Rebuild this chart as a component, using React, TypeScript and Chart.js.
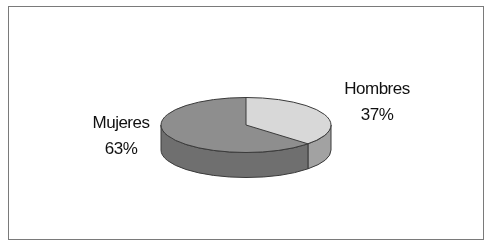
import React, { useEffect, useRef } from "react";
import { Chart, registerables } from "chart.js";

Chart.register(...registerables);

const categories = ["Hombres", "Mujeres"];
const values = [37, 63];
const percentLabels = ["37%", "63%"];

const topColors = ["#d8d8d8", "#8e8e8e"];
const sideColors = ["#a2a2a2", "#6f6f6f"];

const CX = 246;
const CY = 125;
const RX = 85;
const RY = 27.5;
const DEPTH = 25;
const OUTLINE = "#3a3a3a";

const labelPos: Record<string, [number, number]> = {
  Hombres: [377, 89],
  Mujeres: [121, 123],
};

const pie3d = {
  id: "pie3d",
  beforeDatasetsDraw(chart: any) {
    const ctx = chart.ctx as CanvasRenderingContext2D;
    const meta = chart.getDatasetMeta(0);
    const arcs = meta.data;
    if (!arcs.length) return;
    const p = arcs[0].getProps(["x", "y", "outerRadius"], true);
    // side walls (front half only)
    ctx.save();
    ctx.lineWidth = 1;
    ctx.strokeStyle = OUTLINE;
    arcs.forEach((arc: any, i: number) => {
      const a = arc.getProps(["startAngle", "endAngle"], true);
      const s = Math.max(a.startAngle, 0);
      const e = Math.min(a.endAngle, Math.PI);
      if (s >= e) return;
      ctx.beginPath();
      ctx.ellipse(CX, CY, RX, RY, 0, s, e, false);
      ctx.lineTo(CX + RX * Math.cos(e), CY + DEPTH + RY * Math.sin(e));
      ctx.ellipse(CX, CY + DEPTH, RX, RY, 0, e, s, true);
      ctx.closePath();
      ctx.fillStyle = sideColors[i];
      ctx.fill();
      ctx.stroke();
    });
    ctx.restore();
    ctx.save();
    ctx.translate(CX, CY);
    ctx.scale(RX / p.outerRadius, RY / p.outerRadius);
    ctx.translate(-p.x, -p.y);
  },
  afterDatasetsDraw(chart: any) {
    const ctx = chart.ctx as CanvasRenderingContext2D;
    ctx.restore();
    const meta = chart.getDatasetMeta(0);
    const arcs = meta.data;
    ctx.save();
    ctx.lineWidth = 1;
    ctx.strokeStyle = OUTLINE;
    ctx.beginPath();
    ctx.ellipse(CX, CY, RX, RY, 0, 0, Math.PI * 2);
    ctx.stroke();
    arcs.forEach((arc: any) => {
      const a = arc.getProps(["startAngle"], true);
      ctx.beginPath();
      ctx.moveTo(CX, CY);
      ctx.lineTo(CX + RX * Math.cos(a.startAngle), CY + RY * Math.sin(a.startAngle));
      ctx.stroke();
    });
    // labels
    ctx.fillStyle = "#111";
    ctx.font = "17px 'Liberation Sans', Arial, sans-serif";
    ctx.textAlign = "center";
    ctx.textBaseline = "middle";
    (ctx as any).letterSpacing = "-0.5px";
    categories.forEach((c, i) => {
      const [lx, ly] = labelPos[c];
      ctx.fillText(c, lx, ly);
      ctx.fillText(percentLabels[i], lx, ly + 26);
    });
    ctx.restore();
  },
  afterDraw(chart: any) {
    const ctx = chart.ctx as CanvasRenderingContext2D;
    ctx.save();
    ctx.strokeStyle = "#7a7a7a";
    ctx.lineWidth = 1;
    ctx.strokeRect(8.5, 6.5, 475, 233);
    ctx.restore();
  },
};

export default function App() {
  const ref = useRef<HTMLCanvasElement | null>(null);
  useEffect(() => {
    if (!ref.current) return;
    const chart = new Chart(ref.current, {
      type: "pie",
      data: {
        labels: categories,
        datasets: [
          {
            data: values,
            backgroundColor: topColors,
            borderWidth: 0,
          },
        ],
      },
      options: {
        responsive: false,
        animation: false,
        events: [],
        plugins: {
          legend: { display: false },
          tooltip: { enabled: false },
        },
      },
      plugins: [pie3d],
    });
    return () => chart.destroy();
  }, []);
  return (
    <div style={{ position: "absolute", left: 0, top: 0, width: 485, height: 241, background: "#fff" }}>
      <canvas ref={ref} width={485} height={241} style={{ display: "block" }} />
    </div>
  );
}
